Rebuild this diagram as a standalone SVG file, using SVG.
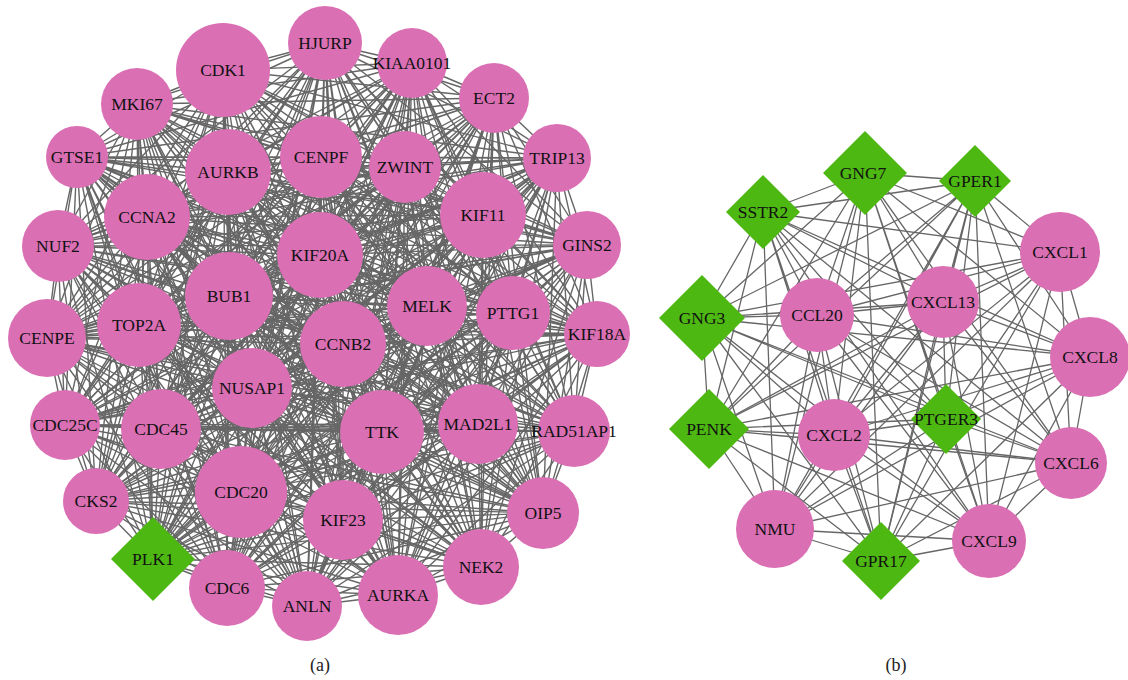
<svg xmlns="http://www.w3.org/2000/svg" width="1128" height="680" viewBox="0 0 1128 680">
<style>
.e{fill:none;stroke:#666;stroke-width:1.4}
.e2{fill:none;stroke:#666;stroke-width:1.3}
.c{fill:#DA6FB4}
.d{fill:#4DB811}
.t{font-family:"Liberation Serif","Times New Roman",serif;font-size:17.5px;text-anchor:middle;fill:#111}
.cap{font-family:"Liberation Serif","Times New Roman",serif;font-size:18px;text-anchor:middle;fill:#222}
</style>
<rect width="1128" height="680" fill="#fff"/>
<g id="connectors">
<path class="e" d="M223 70L325 43M223 70L412 63M223 70L494 98M223 70L137 104M223 70L77 157M223 70L557 158M223 70L228 172M223 70L321 157M223 70L405 167M223 70L483 215M223 70L147 217M223 70L58 246M223 70L587 245M223 70L320 255M223 70L229 296M223 70L427 306M223 70L513 313M223 70L597 334M223 70L139 325M223 70L47 338M223 70L343 344M223 70L252 388M223 70L382 432M223 70L478 424M223 70L574 431M223 70L65 425M223 70L161 429M223 70L241 492M223 70L343 520M223 70L543 513M223 70L96 501M223 70L153 559M223 70L227 588M223 70L307 606M223 70L398 595M223 70L481 567"/>
<path class="e" d="M325 43L412 63M325 43L494 98M325 43L137 104M325 43L77 157M325 43L557 158M325 43L228 172M325 43L321 157M325 43L405 167M325 43L483 215M325 43L147 217M325 43L58 246M325 43L587 245M325 43L320 255M325 43L229 296M325 43L427 306M325 43L513 313M325 43L597 334M325 43L139 325M325 43L47 338M325 43L343 344M325 43L252 388M325 43L382 432M325 43L478 424M325 43L574 431M325 43L65 425M325 43L161 429M325 43L241 492M325 43L343 520M325 43L543 513M325 43L96 501M325 43L153 559M325 43L227 588M325 43L307 606M325 43L398 595M325 43L481 567"/>
<path class="e" d="M412 63L494 98M412 63L137 104M412 63L77 157M412 63L557 158M412 63L228 172M412 63L321 157M412 63L405 167M412 63L483 215M412 63L147 217M412 63L58 246M412 63L587 245M412 63L320 255M412 63L229 296M412 63L427 306M412 63L513 313M412 63L597 334M412 63L139 325M412 63L47 338M412 63L343 344M412 63L252 388M412 63L382 432M412 63L478 424M412 63L574 431M412 63L65 425M412 63L161 429M412 63L241 492M412 63L343 520M412 63L543 513M412 63L96 501M412 63L153 559M412 63L227 588M412 63L307 606M412 63L398 595M412 63L481 567"/>
<path class="e" d="M494 98L137 104M494 98L77 157M494 98L557 158M494 98L228 172M494 98L321 157M494 98L405 167M494 98L483 215M494 98L147 217M494 98L58 246M494 98L587 245M494 98L320 255M494 98L229 296M494 98L427 306M494 98L513 313M494 98L597 334M494 98L139 325M494 98L47 338M494 98L343 344M494 98L252 388M494 98L382 432M494 98L478 424M494 98L574 431M494 98L65 425M494 98L161 429M494 98L241 492M494 98L343 520M494 98L543 513M494 98L96 501M494 98L153 559M494 98L227 588M494 98L307 606M494 98L398 595M494 98L481 567"/>
<path class="e" d="M137 104L77 157M137 104L557 158M137 104L228 172M137 104L321 157M137 104L405 167M137 104L483 215M137 104L147 217M137 104L58 246M137 104L587 245M137 104L320 255M137 104L229 296M137 104L427 306M137 104L513 313M137 104L597 334M137 104L139 325M137 104L47 338M137 104L343 344M137 104L252 388M137 104L382 432M137 104L478 424M137 104L574 431M137 104L65 425M137 104L161 429M137 104L241 492M137 104L343 520M137 104L543 513M137 104L96 501M137 104L153 559M137 104L227 588M137 104L307 606M137 104L398 595M137 104L481 567"/>
<path class="e" d="M77 157L557 158M77 157L228 172M77 157L321 157M77 157L405 167M77 157L483 215M77 157L147 217M77 157L58 246M77 157L587 245M77 157L320 255M77 157L229 296M77 157L427 306M77 157L513 313M77 157L597 334M77 157L139 325M77 157L47 338M77 157L343 344M77 157L252 388M77 157L382 432M77 157L478 424M77 157L574 431M77 157L65 425M77 157L161 429M77 157L241 492M77 157L343 520M77 157L543 513M77 157L96 501M77 157L153 559M77 157L227 588M77 157L307 606M77 157L398 595M77 157L481 567"/>
<path class="e" d="M557 158L228 172M557 158L321 157M557 158L405 167M557 158L483 215M557 158L147 217M557 158L58 246M557 158L587 245M557 158L320 255M557 158L229 296M557 158L427 306M557 158L513 313M557 158L597 334M557 158L139 325M557 158L47 338M557 158L343 344M557 158L252 388M557 158L382 432M557 158L478 424M557 158L574 431M557 158L65 425M557 158L161 429M557 158L241 492M557 158L343 520M557 158L543 513M557 158L96 501M557 158L153 559M557 158L227 588M557 158L307 606M557 158L398 595M557 158L481 567"/>
<path class="e" d="M228 172L321 157M228 172L405 167M228 172L483 215M228 172L147 217M228 172L58 246M228 172L587 245M228 172L320 255M228 172L229 296M228 172L427 306M228 172L513 313M228 172L597 334M228 172L139 325M228 172L47 338M228 172L343 344M228 172L252 388M228 172L382 432M228 172L478 424M228 172L574 431M228 172L65 425M228 172L161 429M228 172L241 492M228 172L343 520M228 172L543 513M228 172L96 501M228 172L153 559M228 172L227 588M228 172L307 606M228 172L398 595M228 172L481 567"/>
<path class="e" d="M321 157L405 167M321 157L483 215M321 157L147 217M321 157L58 246M321 157L587 245M321 157L320 255M321 157L229 296M321 157L427 306M321 157L513 313M321 157L597 334M321 157L139 325M321 157L47 338M321 157L343 344M321 157L252 388M321 157L382 432M321 157L478 424M321 157L574 431M321 157L65 425M321 157L161 429M321 157L241 492M321 157L343 520M321 157L543 513M321 157L96 501M321 157L153 559M321 157L227 588M321 157L307 606M321 157L398 595M321 157L481 567"/>
<path class="e" d="M405 167L483 215M405 167L147 217M405 167L58 246M405 167L587 245M405 167L320 255M405 167L229 296M405 167L427 306M405 167L513 313M405 167L597 334M405 167L139 325M405 167L47 338M405 167L343 344M405 167L252 388M405 167L382 432M405 167L478 424M405 167L574 431M405 167L65 425M405 167L161 429M405 167L241 492M405 167L343 520M405 167L543 513M405 167L96 501M405 167L153 559M405 167L227 588M405 167L307 606M405 167L398 595M405 167L481 567"/>
<path class="e" d="M483 215L147 217M483 215L58 246M483 215L587 245M483 215L320 255M483 215L229 296M483 215L427 306M483 215L513 313M483 215L597 334M483 215L139 325M483 215L47 338M483 215L343 344M483 215L252 388M483 215L382 432M483 215L478 424M483 215L574 431M483 215L65 425M483 215L161 429M483 215L241 492M483 215L343 520M483 215L543 513M483 215L96 501M483 215L153 559M483 215L227 588M483 215L307 606M483 215L398 595M483 215L481 567"/>
<path class="e" d="M147 217L58 246M147 217L587 245M147 217L320 255M147 217L229 296M147 217L427 306M147 217L513 313M147 217L597 334M147 217L139 325M147 217L47 338M147 217L343 344M147 217L252 388M147 217L382 432M147 217L478 424M147 217L574 431M147 217L65 425M147 217L161 429M147 217L241 492M147 217L343 520M147 217L543 513M147 217L96 501M147 217L153 559M147 217L227 588M147 217L307 606M147 217L398 595M147 217L481 567"/>
<path class="e" d="M58 246L587 245M58 246L320 255M58 246L229 296M58 246L427 306M58 246L513 313M58 246L597 334M58 246L139 325M58 246L47 338M58 246L343 344M58 246L252 388M58 246L382 432M58 246L478 424M58 246L574 431M58 246L65 425M58 246L161 429M58 246L241 492M58 246L343 520M58 246L543 513M58 246L96 501M58 246L153 559M58 246L227 588M58 246L307 606M58 246L398 595M58 246L481 567"/>
<path class="e" d="M587 245L320 255M587 245L229 296M587 245L427 306M587 245L513 313M587 245L597 334M587 245L139 325M587 245L47 338M587 245L343 344M587 245L252 388M587 245L382 432M587 245L478 424M587 245L574 431M587 245L65 425M587 245L161 429M587 245L241 492M587 245L343 520M587 245L543 513M587 245L96 501M587 245L153 559M587 245L227 588M587 245L307 606M587 245L398 595M587 245L481 567"/>
<path class="e" d="M320 255L229 296M320 255L427 306M320 255L513 313M320 255L597 334M320 255L139 325M320 255L47 338M320 255L343 344M320 255L252 388M320 255L382 432M320 255L478 424M320 255L574 431M320 255L65 425M320 255L161 429M320 255L241 492M320 255L343 520M320 255L543 513M320 255L96 501M320 255L153 559M320 255L227 588M320 255L307 606M320 255L398 595M320 255L481 567"/>
<path class="e" d="M229 296L427 306M229 296L513 313M229 296L597 334M229 296L139 325M229 296L47 338M229 296L343 344M229 296L252 388M229 296L382 432M229 296L478 424M229 296L574 431M229 296L65 425M229 296L161 429M229 296L241 492M229 296L343 520M229 296L543 513M229 296L96 501M229 296L153 559M229 296L227 588M229 296L307 606M229 296L398 595M229 296L481 567"/>
<path class="e" d="M427 306L513 313M427 306L597 334M427 306L139 325M427 306L47 338M427 306L343 344M427 306L252 388M427 306L382 432M427 306L478 424M427 306L574 431M427 306L65 425M427 306L161 429M427 306L241 492M427 306L343 520M427 306L543 513M427 306L96 501M427 306L153 559M427 306L227 588M427 306L307 606M427 306L398 595M427 306L481 567"/>
<path class="e" d="M513 313L597 334M513 313L139 325M513 313L47 338M513 313L343 344M513 313L252 388M513 313L382 432M513 313L478 424M513 313L574 431M513 313L65 425M513 313L161 429M513 313L241 492M513 313L343 520M513 313L543 513M513 313L96 501M513 313L153 559M513 313L227 588M513 313L307 606M513 313L398 595M513 313L481 567"/>
<path class="e" d="M597 334L139 325M597 334L47 338M597 334L343 344M597 334L252 388M597 334L382 432M597 334L478 424M597 334L574 431M597 334L65 425M597 334L161 429M597 334L241 492M597 334L343 520M597 334L543 513M597 334L96 501M597 334L153 559M597 334L227 588M597 334L307 606M597 334L398 595M597 334L481 567"/>
<path class="e" d="M139 325L47 338M139 325L343 344M139 325L252 388M139 325L382 432M139 325L478 424M139 325L574 431M139 325L65 425M139 325L161 429M139 325L241 492M139 325L343 520M139 325L543 513M139 325L96 501M139 325L153 559M139 325L227 588M139 325L307 606M139 325L398 595M139 325L481 567"/>
<path class="e" d="M47 338L343 344M47 338L252 388M47 338L382 432M47 338L478 424M47 338L574 431M47 338L65 425M47 338L161 429M47 338L241 492M47 338L343 520M47 338L543 513M47 338L96 501M47 338L153 559M47 338L227 588M47 338L307 606M47 338L398 595M47 338L481 567"/>
<path class="e" d="M343 344L252 388M343 344L382 432M343 344L478 424M343 344L574 431M343 344L65 425M343 344L161 429M343 344L241 492M343 344L343 520M343 344L543 513M343 344L96 501M343 344L153 559M343 344L227 588M343 344L307 606M343 344L398 595M343 344L481 567"/>
<path class="e" d="M252 388L382 432M252 388L478 424M252 388L574 431M252 388L65 425M252 388L161 429M252 388L241 492M252 388L343 520M252 388L543 513M252 388L96 501M252 388L153 559M252 388L227 588M252 388L307 606M252 388L398 595M252 388L481 567"/>
<path class="e" d="M382 432L478 424M382 432L574 431M382 432L65 425M382 432L161 429M382 432L241 492M382 432L343 520M382 432L543 513M382 432L96 501M382 432L153 559M382 432L227 588M382 432L307 606M382 432L398 595M382 432L481 567"/>
<path class="e" d="M478 424L574 431M478 424L65 425M478 424L161 429M478 424L241 492M478 424L343 520M478 424L543 513M478 424L96 501M478 424L153 559M478 424L227 588M478 424L307 606M478 424L398 595M478 424L481 567"/>
<path class="e" d="M574 431L65 425M574 431L161 429M574 431L241 492M574 431L343 520M574 431L543 513M574 431L96 501M574 431L153 559M574 431L227 588M574 431L307 606M574 431L398 595M574 431L481 567"/>
<path class="e" d="M65 425L161 429M65 425L241 492M65 425L343 520M65 425L543 513M65 425L96 501M65 425L153 559M65 425L227 588M65 425L307 606M65 425L398 595M65 425L481 567"/>
<path class="e" d="M161 429L241 492M161 429L343 520M161 429L543 513M161 429L96 501M161 429L153 559M161 429L227 588M161 429L307 606M161 429L398 595M161 429L481 567"/>
<path class="e" d="M241 492L343 520M241 492L543 513M241 492L96 501M241 492L153 559M241 492L227 588M241 492L307 606M241 492L398 595M241 492L481 567"/>
<path class="e" d="M343 520L543 513M343 520L96 501M343 520L153 559M343 520L227 588M343 520L307 606M343 520L398 595M343 520L481 567"/>
<path class="e" d="M543 513L96 501M543 513L153 559M543 513L227 588M543 513L307 606M543 513L398 595M543 513L481 567"/>
<path class="e" d="M96 501L153 559M96 501L227 588M96 501L307 606M96 501L398 595M96 501L481 567"/>
<path class="e" d="M153 559L227 588M153 559L307 606M153 559L398 595M153 559L481 567"/>
<path class="e" d="M227 588L307 606M227 588L398 595M227 588L481 567M307 606L398 595M307 606L481 567M398 595L481 567"/>
<path class="e2" d="M763 212L865 173M763 212L975 181M763 212L1060 252M763 212L702 318M763 212L817 315M763 212L943 302M763 212L1090 357M763 212L946 419M763 212L709 429M763 212L834 435M763 212L1071 463M763 212L775 529M763 212L881 561M763 212L989 541"/>
<path class="e2" d="M865 173L975 181M865 173L1060 252M865 173L702 318M865 173L817 315M865 173L943 302M865 173L1090 357M865 173L946 419M865 173L709 429M865 173L834 435M865 173L1071 463M865 173L775 529M865 173L881 561M865 173L989 541"/>
<path class="e2" d="M975 181L1060 252M975 181L702 318M975 181L817 315M975 181L943 302M975 181L1090 357M975 181L946 419M975 181L709 429M975 181L834 435M975 181L1071 463M975 181L775 529M975 181L881 561M975 181L989 541"/>
<path class="e2" d="M1060 252L702 318M1060 252L817 315M1060 252L943 302M1060 252L1090 357M1060 252L946 419M1060 252L709 429M1060 252L834 435M1060 252L1071 463M1060 252L775 529M1060 252L881 561M1060 252L989 541"/>
<path class="e2" d="M702 318L817 315M702 318L943 302M702 318L1090 357M702 318L946 419M702 318L709 429M702 318L834 435M702 318L1071 463M702 318L775 529M702 318L881 561M702 318L989 541"/>
<path class="e2" d="M817 315L943 302M817 315L1090 357M817 315L946 419M817 315L709 429M817 315L834 435M817 315L1071 463M817 315L775 529M817 315L881 561M817 315L989 541"/>
<path class="e2" d="M943 302L1090 357M943 302L946 419M943 302L709 429M943 302L834 435M943 302L1071 463M943 302L775 529M943 302L881 561M943 302L989 541"/>
<path class="e2" d="M1090 357L946 419M1090 357L709 429M1090 357L834 435M1090 357L1071 463M1090 357L775 529M1090 357L881 561M1090 357L989 541"/>
<path class="e2" d="M946 419L709 429M946 419L834 435M946 419L1071 463M946 419L775 529M946 419L881 561M946 419L989 541"/>
<path class="e2" d="M709 429L834 435M709 429L1071 463M709 429L775 529M709 429L881 561M709 429L989 541"/>
<path class="e2" d="M834 435L1071 463M834 435L775 529M834 435L881 561M834 435L989 541M1071 463L775 529M1071 463L881 561M1071 463L989 541M775 529L881 561M775 529L989 541M881 561L989 541"/>
</g>
<g id="n-CDK1"><circle class="c" cx="223" cy="70" r="47"/><text class="t" x="223" y="76">CDK1</text></g>
<g id="n-HJURP"><circle class="c" cx="325" cy="43" r="37"/><text class="t" x="325" y="49">HJURP</text></g>
<g id="n-KIAA0101"><circle class="c" cx="412" cy="63" r="35"/><text class="t" x="412" y="69">KIAA0101</text></g>
<g id="n-ECT2"><circle class="c" cx="494" cy="98" r="35"/><text class="t" x="494" y="104">ECT2</text></g>
<g id="n-MKI67"><circle class="c" cx="137" cy="104" r="36"/><text class="t" x="137" y="110">MKI67</text></g>
<g id="n-GTSE1"><circle class="c" cx="77" cy="157" r="31"/><text class="t" x="77" y="163">GTSE1</text></g>
<g id="n-TRIP13"><circle class="c" cx="557" cy="158" r="34"/><text class="t" x="557" y="164">TRIP13</text></g>
<g id="n-AURKB"><circle class="c" cx="228" cy="172" r="43"/><text class="t" x="228" y="178">AURKB</text></g>
<g id="n-CENPF"><circle class="c" cx="321" cy="157" r="41"/><text class="t" x="321" y="163">CENPF</text></g>
<g id="n-ZWINT"><circle class="c" cx="405" cy="167" r="36"/><text class="t" x="405" y="173">ZWINT</text></g>
<g id="n-KIF11"><circle class="c" cx="483" cy="215" r="43"/><text class="t" x="483" y="221">KIF11</text></g>
<g id="n-CCNA2"><circle class="c" cx="147" cy="217" r="43"/><text class="t" x="147" y="223">CCNA2</text></g>
<g id="n-NUF2"><circle class="c" cx="58" cy="246" r="36"/><text class="t" x="58" y="252">NUF2</text></g>
<g id="n-GINS2"><circle class="c" cx="587" cy="245" r="34"/><text class="t" x="587" y="251">GINS2</text></g>
<g id="n-KIF20A"><circle class="c" cx="320" cy="255" r="43"/><text class="t" x="320" y="261">KIF20A</text></g>
<g id="n-BUB1"><circle class="c" cx="229" cy="296" r="44"/><text class="t" x="229" y="302">BUB1</text></g>
<g id="n-MELK"><circle class="c" cx="427" cy="306" r="40"/><text class="t" x="427" y="312">MELK</text></g>
<g id="n-PTTG1"><circle class="c" cx="513" cy="313" r="37"/><text class="t" x="513" y="319">PTTG1</text></g>
<g id="n-KIF18A"><circle class="c" cx="597" cy="334" r="33"/><text class="t" x="597" y="340">KIF18A</text></g>
<g id="n-TOP2A"><circle class="c" cx="139" cy="325" r="42"/><text class="t" x="139" y="331">TOP2A</text></g>
<g id="n-CENPE"><circle class="c" cx="47" cy="338" r="39"/><text class="t" x="47" y="344">CENPE</text></g>
<g id="n-CCNB2"><circle class="c" cx="343" cy="344" r="43"/><text class="t" x="343" y="350">CCNB2</text></g>
<g id="n-NUSAP1"><circle class="c" cx="252" cy="388" r="40"/><text class="t" x="252" y="394">NUSAP1</text></g>
<g id="n-TTK"><circle class="c" cx="382" cy="432" r="42"/><text class="t" x="382" y="438">TTK</text></g>
<g id="n-MAD2L1"><circle class="c" cx="478" cy="424" r="40"/><text class="t" x="478" y="430">MAD2L1</text></g>
<g id="n-RAD51AP1"><circle class="c" cx="574" cy="431" r="36"/><text class="t" x="574" y="437">RAD51AP1</text></g>
<g id="n-CDC25C"><circle class="c" cx="65" cy="425" r="35"/><text class="t" x="65" y="431">CDC25C</text></g>
<g id="n-CDC45"><circle class="c" cx="161" cy="429" r="40"/><text class="t" x="161" y="435">CDC45</text></g>
<g id="n-CDC20"><circle class="c" cx="241" cy="492" r="46"/><text class="t" x="241" y="498">CDC20</text></g>
<g id="n-KIF23"><circle class="c" cx="343" cy="520" r="40"/><text class="t" x="343" y="526">KIF23</text></g>
<g id="n-OIP5"><circle class="c" cx="543" cy="513" r="36"/><text class="t" x="543" y="519">OIP5</text></g>
<g id="n-CKS2"><circle class="c" cx="96" cy="501" r="33"/><text class="t" x="96" y="507">CKS2</text></g>
<g id="n-PLK1"><polygon class="d" points="153,517 195,559 153,601 111,559"/><text class="t" x="153" y="565">PLK1</text></g>
<g id="n-CDC6"><circle class="c" cx="227" cy="588" r="38"/><text class="t" x="227" y="594">CDC6</text></g>
<g id="n-ANLN"><circle class="c" cx="307" cy="606" r="35"/><text class="t" x="307" y="612">ANLN</text></g>
<g id="n-AURKA"><circle class="c" cx="398" cy="595" r="40"/><text class="t" x="398" y="601">AURKA</text></g>
<g id="n-NEK2"><circle class="c" cx="481" cy="567" r="38"/><text class="t" x="481" y="573">NEK2</text></g>
<g id="n-SSTR2"><polygon class="d" points="763,175 800,212 763,249 726,212"/><text class="t" x="763" y="218">SSTR2</text></g>
<g id="n-GNG7"><polygon class="d" points="865,131 907,173 865,215 823,173"/><text class="t" x="863" y="179">GNG7</text></g>
<g id="n-GPER1"><polygon class="d" points="975,145 1011,181 975,217 939,181"/><text class="t" x="975" y="187">GPER1</text></g>
<g id="n-CXCL1"><circle class="c" cx="1060" cy="252" r="40"/><text class="t" x="1060" y="258">CXCL1</text></g>
<g id="n-GNG3"><polygon class="d" points="702,275 745,318 702,361 659,318"/><text class="t" x="702" y="324">GNG3</text></g>
<g id="n-CCL20"><circle class="c" cx="817" cy="315" r="37"/><text class="t" x="817" y="321">CCL20</text></g>
<g id="n-CXCL13"><circle class="c" cx="943" cy="302" r="36"/><text class="t" x="943" y="308">CXCL13</text></g>
<g id="n-CXCL8"><circle class="c" cx="1090" cy="357" r="40"/><text class="t" x="1090" y="363">CXCL8</text></g>
<g id="n-PTGER3"><polygon class="d" points="946,384 981,419 946,454 911,419"/><text class="t" x="946" y="425">PTGER3</text></g>
<g id="n-PENK"><polygon class="d" points="709,389 749,429 709,469 669,429"/><text class="t" x="709" y="435">PENK</text></g>
<g id="n-CXCL2"><circle class="c" cx="834" cy="435" r="36"/><text class="t" x="834" y="441">CXCL2</text></g>
<g id="n-CXCL6"><circle class="c" cx="1071" cy="463" r="36"/><text class="t" x="1071" y="469">CXCL6</text></g>
<g id="n-NMU"><circle class="c" cx="775" cy="529" r="39"/><text class="t" x="775" y="535">NMU</text></g>
<g id="n-GPR17"><polygon class="d" points="881,522 920,561 881,600 842,561"/><text class="t" x="881" y="567">GPR17</text></g>
<g id="n-CXCL9"><circle class="c" cx="989" cy="541" r="37"/><text class="t" x="989" y="547">CXCL9</text></g>
<text class="cap" x="320" y="671">(a)</text>
<text class="cap" x="896" y="671">(b)</text>
</svg>
